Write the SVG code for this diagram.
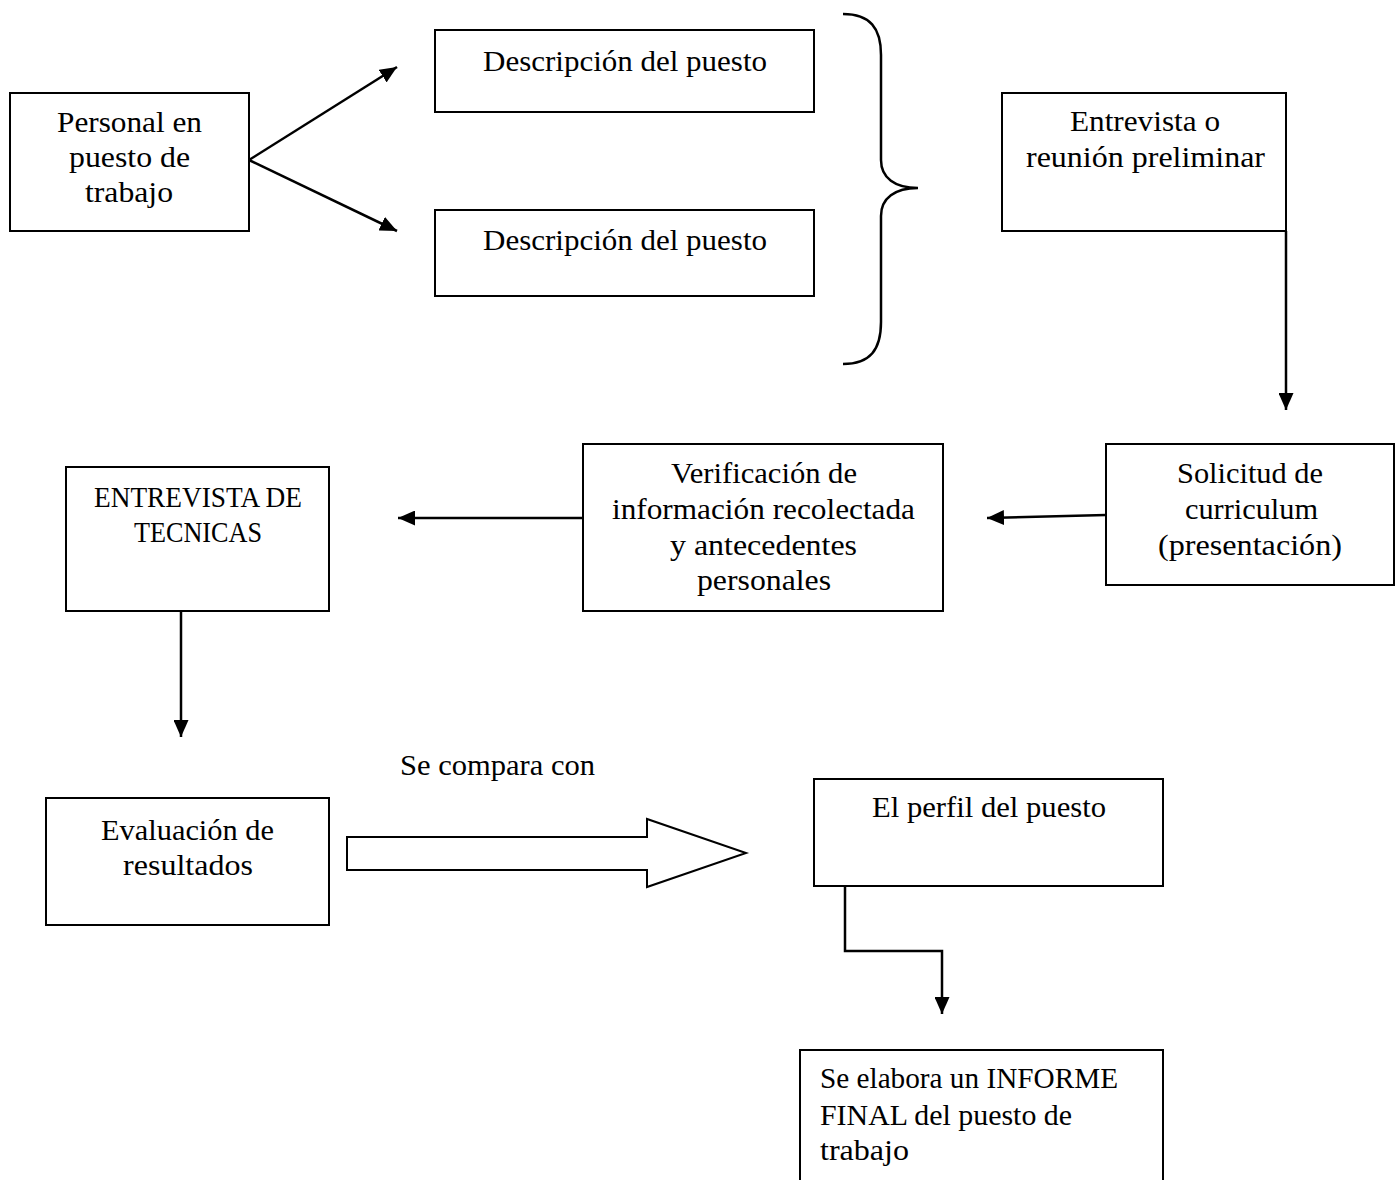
<svg xmlns="http://www.w3.org/2000/svg" width="1399" height="1180" viewBox="0 0 1399 1180">
<style>
.box{fill:#fff;stroke:#000;stroke-width:2}
.t{font-family:"Liberation Serif","DejaVu Serif",serif;font-size:30px;fill:#000}
.c{text-anchor:middle}
.con{fill:none;stroke:#000;stroke-width:2.5}
</style>
<defs>
<marker id="ah" markerUnits="userSpaceOnUse" markerWidth="17" markerHeight="15" refX="17" refY="7.5" orient="auto">
<path d="M0,0 L17,7.5 L0,15 Z" fill="#000"/>
</marker>
</defs>
<rect width="1399" height="1180" fill="#fff"/>
<g id="connectors">
<line class="con" x1="249" y1="160" x2="397" y2="67" marker-end="url(#ah)"/>
<line class="con" x1="249" y1="160" x2="397" y2="231" marker-end="url(#ah)"/>
<path class="con" d="M843,14 C870,14 881,28 881,55 L881,160 C881,178 895,188 918,188 C895,188 881,198 881,216 L881,322 C881,350 870,364 843,364" stroke-width="2"/>
<polyline class="con" points="1286,231 1286,410" marker-end="url(#ah)"/>
<line class="con" x1="1106" y1="515" x2="987" y2="518" marker-end="url(#ah)"/>
<line class="con" x1="583" y1="518" x2="398" y2="518" marker-end="url(#ah)"/>
<line class="con" x1="181" y1="611" x2="181" y2="737" marker-end="url(#ah)"/>
<polygon points="347,837 647,837 647,819 746,853 647,887 647,870 347,870" fill="#fff" stroke="#000" stroke-width="2"/>
<polyline class="con" points="845,886 845,951 942,951 942,1014" marker-end="url(#ah)"/>
</g>
<g id="n1"><rect class="box" x="10" y="93" width="239" height="138"/>
<text class="t c" x="129.5" y="132" textLength="145" lengthAdjust="spacingAndGlyphs">Personal en</text>
<text class="t c" x="129.5" y="167" textLength="121" lengthAdjust="spacingAndGlyphs">puesto de</text>
<text class="t c" x="129" y="202" textLength="88" lengthAdjust="spacingAndGlyphs">trabajo</text></g>
<g id="n2"><rect class="box" x="435" y="30" width="379" height="82"/>
<text class="t c" x="625" y="71" textLength="284" lengthAdjust="spacingAndGlyphs">Descripción del puesto</text></g>
<g id="n3"><rect class="box" x="435" y="210" width="379" height="86"/>
<text class="t c" x="625" y="250" textLength="284" lengthAdjust="spacingAndGlyphs">Descripción del puesto</text></g>
<g id="n4"><rect class="box" x="1002" y="93" width="284" height="138"/>
<text class="t c" x="1145" y="131" textLength="150" lengthAdjust="spacingAndGlyphs">Entrevista o</text>
<text class="t c" x="1145.5" y="167" textLength="239" lengthAdjust="spacingAndGlyphs">reunión preliminar</text></g>
<g id="n5"><rect class="box" x="1106" y="444" width="288" height="141"/>
<text class="t c" x="1250" y="483" textLength="146" lengthAdjust="spacingAndGlyphs">Solicitud de</text>
<text class="t c" x="1251.5" y="519" textLength="133" lengthAdjust="spacingAndGlyphs">curriculum</text>
<text class="t c" x="1250" y="555" textLength="184" lengthAdjust="spacingAndGlyphs">(presentación)</text></g>
<g id="n6"><rect class="box" x="583" y="444" width="360" height="167"/>
<text class="t c" x="764" y="483" textLength="186" lengthAdjust="spacingAndGlyphs">Verificación de</text>
<text class="t c" x="763.5" y="519" textLength="303" lengthAdjust="spacingAndGlyphs">información recolectada</text>
<text class="t c" x="763.5" y="555" textLength="187" lengthAdjust="spacingAndGlyphs">y antecedentes</text>
<text class="t c" x="764" y="590" textLength="134" lengthAdjust="spacingAndGlyphs">personales</text></g>
<g id="n7"><rect class="box" x="66" y="467" width="263" height="144"/>
<text class="t c" x="198" y="507" textLength="208" lengthAdjust="spacingAndGlyphs">ENTREVISTA DE</text>
<text class="t c" x="198" y="542" textLength="128" lengthAdjust="spacingAndGlyphs">TECNICAS</text></g>
<g id="n8"><rect class="box" x="46" y="798" width="283" height="127"/>
<text class="t c" x="187.5" y="840" textLength="173" lengthAdjust="spacingAndGlyphs">Evaluación de</text>
<text class="t c" x="188" y="875" textLength="130" lengthAdjust="spacingAndGlyphs">resultados</text></g>
<g id="label"><text class="t" x="400" y="775" textLength="195" lengthAdjust="spacingAndGlyphs">Se compara con</text></g>
<g id="n9"><rect class="box" x="814" y="779" width="349" height="107"/>
<text class="t c" x="989" y="817" textLength="234" lengthAdjust="spacingAndGlyphs">El perfil del puesto</text></g>
<g id="n10"><rect class="box" x="800" y="1050" width="363" height="140"/>
<text class="t" x="820" y="1088" textLength="298" lengthAdjust="spacingAndGlyphs">Se elabora un INFORME</text>
<text class="t" x="820" y="1125" textLength="252" lengthAdjust="spacingAndGlyphs">FINAL del puesto de</text>
<text class="t" x="820" y="1160" textLength="89" lengthAdjust="spacingAndGlyphs">trabajo</text></g>
</svg>
